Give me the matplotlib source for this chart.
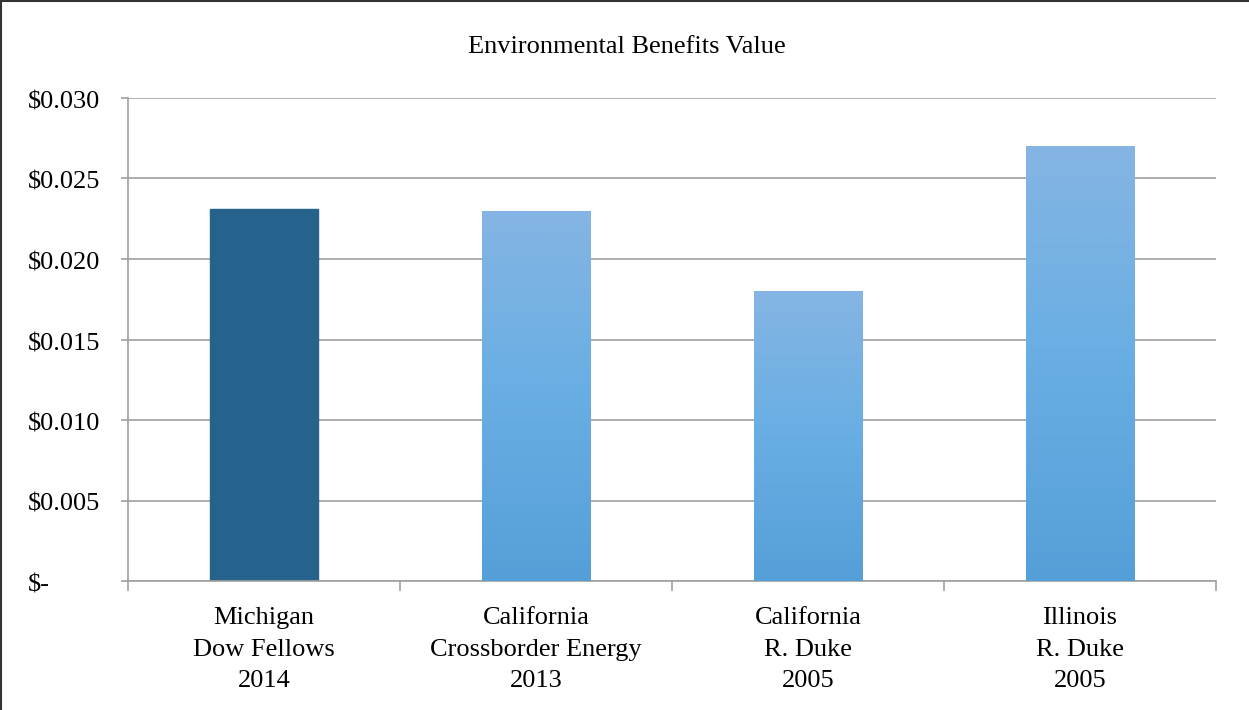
import numpy as np
import matplotlib
matplotlib.use('Agg')
import matplotlib.pyplot as plt
from matplotlib.colors import LinearSegmentedColormap
from matplotlib.lines import Line2D
from matplotlib.transforms import ScaledTranslation

plt.rcParams['font.family'] = ['Liberation Serif', 'DejaVu Serif']

#### data
labels = ['Michigan\nDow Fellows\n2014', 'California\nCrossborder Energy\n2013',
          'California\nR. Duke\n2005', 'Illinois\nR. Duke\n2005']
values = [0.0231, 0.0230, 0.0180, 0.0270]
yticks = [0.0, 0.005, 0.010, 0.015, 0.020, 0.025, 0.030]
ytick_labels = ['$-', '$0.005', '$0.010', '$0.015', '$0.020', '$0.025', '$0.030']

fig = plt.figure(figsize=(12.49, 7.10), dpi=100)
ax = fig.add_axes([128/1249, 1-581/710, (1216-128)/1249, (581-98)/710])

ind = np.arange(len(values))
width = 0.4
bars = ax.bar(ind, values, width, color='#85b5e3', zorder=2)
bars[0].set_color('#25628c')

# vertical gradient on the light bars
grad = LinearSegmentedColormap.from_list('g', ['#559fd8', '#68aee3', '#85b5e3'])
for b in bars[1:]:
    x0, y0 = b.get_x(), b.get_y()
    w, h = b.get_width(), b.get_height()
    im = ax.imshow(np.linspace(0, 1, 256).reshape(-1, 1), cmap=grad, origin='lower',
                   extent=[x0, x0 + w, y0, y0 + h], aspect='auto', zorder=3)
    im.set_clip_path(b)

ax.set_xlim(-0.5, len(values) - 0.5)
ax.set_ylim(0, 0.030)
ax.set_yticks(yticks)
ax.set_yticklabels(ytick_labels, fontsize=19)
ax.set_xticks(ind)
ax.set_xticklabels(labels, fontsize=19, linespacing=1.55)
ax.set_xticks(np.arange(len(values) + 1) - 0.5, minor=True)
ax.tick_params(axis='x', which='major', length=0, pad=19)
ax.tick_params(axis='x', which='minor', length=7, color='#a0a0a0', width=1.2)
ax.tick_params(axis='y', length=5, color='#a0a0a0', width=1.2, pad=67)
shift = ScaledTranslation(0, -2/100, fig.dpi_scale_trans)
for t in ax.get_yticklabels():
    t.set_horizontalalignment('left')
    t.set_transform(t.get_transform() + shift)
ax.grid(axis='y', color='#a0a0a0', linewidth=1.2, zorder=0)
for s in ['top', 'right']:
    ax.spines[s].set_visible(False)
ax.spines['left'].set_color('#a0a0a0')
ax.spines['bottom'].set_color('#a0a0a0')
ax.spines['left'].set_linewidth(1.2)
ax.spines['bottom'].set_linewidth(1.2)

fig.text(627/1249, 1-47/710, 'Environmental Benefits Value', fontsize=19,
         ha='center', va='center')

# outer frame
fig.add_artist(Line2D([0.5/1249, 0.5/1249], [0, 1], color='#333333', linewidth=1.5,
                      transform=fig.transFigure))
fig.add_artist(Line2D([0, 1], [1-0.5/710, 1-0.5/710], color='#333333', linewidth=1.5,
                      transform=fig.transFigure))

fig.savefig('out.png', dpi=100)
